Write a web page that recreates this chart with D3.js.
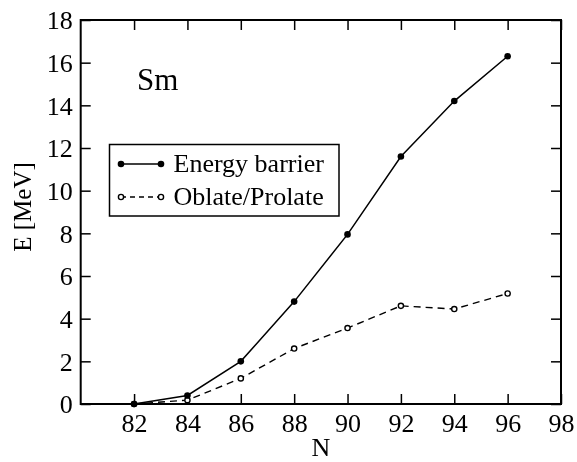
<!DOCTYPE html>
<html>
<head>
<meta charset="utf-8">
<script src="https://cdn.jsdelivr.net/npm/d3@7"></script>
<style>
  html, body { margin: 0; padding: 0; background: #fff; }
  svg { display: block; filter: grayscale(1); }
  text { font-family: "Liberation Serif", "Times New Roman", serif; fill: #000; }
</style>
</head>
<body>
<svg id="chart" width="577" height="462"></svg>
<script>
// Neutron numbers for the Sm isotopes
const neutrons = [82, 84, 86, 88, 90, 92, 94, 96];
// Fission barrier height (MeV)
const barrier = [0, 0.4, 2.0, 4.8, 7.95, 11.6, 14.2, 16.3];
// Oblate/prolate energy difference (MeV)
const oblateProlate = [0, 0.18, 1.2, 2.6, 3.56, 4.6, 4.45, 5.18];
// Axis ticks
const xTicks = [82, 84, 86, 88, 90, 92, 94, 96, 98];
const yTicks = [0, 2, 4, 6, 8, 10, 12, 14, 16, 18];
const seriesNames = ["Energy barrier", "Oblate/Prolate"];

const svg = d3.select("#chart");
const plotL = 80.7, plotR = 561, plotT = 20, plotB = 404;
const serif = "'Liberation Serif', 'Times New Roman', serif";

const x = d3.scaleLinear().domain([80, 98]).range([plotL, plotR]);
const y = d3.scaleLinear().domain([0, 18]).range([plotB, plotT]);

const tickLen = 10;
const fs = 26;

// Frame
svg.append("rect")
  .attr("x", plotL).attr("y", plotT)
  .attr("width", plotR - plotL).attr("height", plotB - plotT)
  .attr("fill", "none").attr("stroke", "#000").attr("stroke-width", 2);

// Axes with inward ticks, mirrored on opposite sides
const bottomAxis = d3.axisBottom(x).tickValues(xTicks).tickSizeInner(-tickLen).tickSizeOuter(0).tickPadding(10);
const topAxis = d3.axisTop(x).tickValues(xTicks).tickSizeInner(-tickLen).tickSizeOuter(0).tickFormat("");
const leftAxis = d3.axisLeft(y).tickValues(yTicks).tickSizeInner(-tickLen).tickSizeOuter(0).tickPadding(8);
const rightAxis = d3.axisRight(y).tickValues(yTicks).tickSizeInner(-tickLen).tickSizeOuter(0).tickFormat("");

function styleAxis(g) {
  g.attr("font-family", serif).attr("font-size", fs);
  g.select(".domain").remove();
  g.selectAll(".tick line").attr("stroke", "#000").attr("stroke-width", 1.5);
  g.selectAll(".tick text")
    .attr("font-family", serif)
    .style("font-family", serif)
    .style("font-size", fs + "px")
    .attr("fill", "#000");
}

svg.append("g").attr("transform", `translate(0,${plotB})`).call(bottomAxis).call(styleAxis)
  .selectAll(".tick text").attr("dy", "0.71em");
svg.append("g").attr("transform", `translate(0,${plotT})`).call(topAxis).call(styleAxis);
svg.append("g").attr("transform", `translate(${plotL},0)`).call(leftAxis).call(styleAxis)
  .selectAll(".tick text").attr("dy", "0.34em");
svg.append("g").attr("transform", `translate(${plotR},0)`).call(rightAxis).call(styleAxis);

// Axis titles
svg.append("text")
  .attr("x", (plotL + plotR) / 2).attr("y", 456)
  .attr("text-anchor", "middle")
  .style("font-size", fs + "px")
  .text("N");

svg.append("text")
  .attr("transform", `translate(31,207) rotate(-90)`)
  .attr("text-anchor", "middle")
  .style("font-size", "25px")
  .text("E [MeV]");

// Element label
svg.append("text")
  .attr("x", 137).attr("y", 90)
  .style("font-size", "31px")
  .text("Sm");

// Data series
const line = d3.line().x(d => x(d[0])).y(d => y(d[1]));
const s1 = neutrons.map((n, i) => [n, barrier[i]]);
const s2 = neutrons.map((n, i) => [n, oblateProlate[i]]);

svg.append("path").datum(s2).attr("d", line)
  .attr("fill", "none").attr("stroke", "#000").attr("stroke-width", 1.4)
  .attr("stroke-dasharray", "7,5");
svg.append("path").datum(s1).attr("d", line)
  .attr("fill", "none").attr("stroke", "#000").attr("stroke-width", 1.5);

svg.append("g").selectAll("circle").data(s2).join("circle")
  .attr("cx", d => x(d[0])).attr("cy", d => y(d[1])).attr("r", 2.6)
  .attr("fill", "#fff").attr("stroke", "#000").attr("stroke-width", 1.4);
svg.append("g").selectAll("circle").data(s1).join("circle")
  .attr("cx", d => x(d[0])).attr("cy", d => y(d[1])).attr("r", 3.3)
  .attr("fill", "#000");

// Legend
const lg = svg.append("g");
lg.append("rect")
  .attr("x", 109.5).attr("y", 144.5).attr("width", 229.5).attr("height", 71.5)
  .attr("fill", "#fff").attr("stroke", "#000").attr("stroke-width", 1.5);

const rows = [
  { name: seriesNames[0], dash: null, filled: true, yy: 164 },
  { name: seriesNames[1], dash: "5,4", filled: false, yy: 197 }
];
rows.forEach(r => {
  lg.append("line")
    .attr("x1", 121).attr("x2", 161).attr("y1", r.yy).attr("y2", r.yy)
    .attr("stroke", "#000").attr("stroke-width", 1.4)
    .attr("stroke-dasharray", r.dash);
  [121, 161].forEach(cx => {
    lg.append("circle").attr("cx", cx).attr("cy", r.yy)
      .attr("r", r.filled ? 3.3 : 2.6)
      .attr("fill", r.filled ? "#000" : "#fff")
      .attr("stroke", r.filled ? "none" : "#000").attr("stroke-width", 1.4);
  });
  lg.append("text")
    .attr("x", 173.5).attr("y", r.yy).attr("dy", "0.32em")
    .style("font-size", "26px")
    .text(r.name);
});
</script>
</body>
</html>
